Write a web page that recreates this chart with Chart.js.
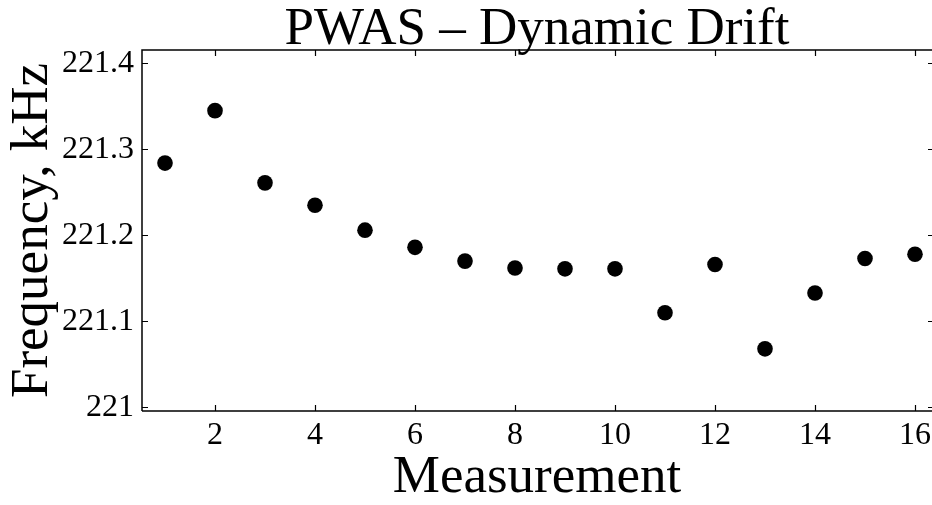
<!DOCTYPE html>
<html>
<head>
<meta charset="utf-8">
<script src="https://cdn.jsdelivr.net/npm/chart.js@4"></script>
<style>
html,body{margin:0;padding:0;background:#fff;overflow:hidden;}
#wrap{width:932px;height:505px;position:relative;}
</style>
</head>
<body>
<div id="wrap"><canvas id="c"></canvas></div>
<script>
const measurements = [1,2,3,4,5,6,7,8,9,10,11,12,13,14,15,16];
const frequencies = [221.284,221.345,221.261,221.235,221.206,221.186,221.170,221.162,221.161,221.161,221.110,221.166,221.068,221.133,221.173,221.178];
const xTickValues = [2,4,6,8,10,12,14,16];
const yTickValues = [221,221.1,221.2,221.3,221.4];
const yTickLabels = ['221','221.1','221.2','221.3','221.4'];
const titleText = 'PWAS \u2013 Dynamic Drift';
const xTitle = 'Measurement';
const yTitle = 'Frequency, kHz';

const FONT = '"Liberation Serif", "Times New Roman", serif';

const frame = {
  id: 'frame',
  afterDatasetsDraw(chart) {
    const {ctx, chartArea: a, scales: {x, y}} = chart;
    ctx.save();
    ctx.strokeStyle = '#000';
    ctx.lineWidth = 1.5;
    ctx.beginPath();
    ctx.moveTo(a.left, a.bottom); ctx.lineTo(a.left, a.top); ctx.lineTo(a.right, a.top);
    ctx.moveTo(a.left, a.bottom); ctx.lineTo(a.right, a.bottom);
    ctx.stroke();
    ctx.lineWidth = 1.2;
    ctx.beginPath();
    xTickValues.forEach(v => {
      const px = Math.round(x.getPixelForValue(v)) + 0.5;
      ctx.moveTo(px, a.bottom); ctx.lineTo(px, a.bottom - 6);
      ctx.moveTo(px, a.top); ctx.lineTo(px, a.top + 6);
    });
    yTickValues.forEach(v => {
      const py = Math.round(y.getPixelForValue(v)) + 0.5;
      ctx.moveTo(a.left, py); ctx.lineTo(a.left + 6, py);
      ctx.moveTo(a.right, py); ctx.lineTo(a.right - 4, py);
    });
    ctx.stroke();
    ctx.restore();
  }
};

new Chart(document.getElementById('c'), {
  type: 'scatter',
  data: {
    datasets: [{
      data: measurements.map((m, i) => ({x: m, y: frequencies[i]})),
      backgroundColor: '#000',
      borderWidth: 0,
      pointRadius: 7.8,
      pointHoverRadius: 7.8
    }]
  },
  plugins: [frame],
  options: {
    responsive: true,
    maintainAspectRatio: false,
    animation: false,
    events: [],
    layout: {padding: 0, autoPadding: false},
    plugins: {
      legend: {display: false},
      tooltip: {enabled: false},
      title: {
        display: true,
        text: titleText,
        fullSize: false,
        color: '#000',
        font: {family: FONT, size: 53, weight: 'normal', lineHeight: 1},
        padding: {top: 4, bottom: -7}
      }
    },
    scales: {
      x: {
        type: 'linear',
        min: 0.54,
        max: 16.34,
        afterFit(s) { s.height = 94; s.paddingLeft = 0; s.paddingRight = 0; },
        afterBuildTicks(s) { s.ticks = xTickValues.map(v => ({value: v})); },
        grid: {display: false, drawTicks: false},
        border: {display: false},
        ticks: {
          includeBounds: false,
          autoSkip: false,
          maxRotation: 0,
          padding: 5,
          color: '#000',
          font: {family: FONT, size: 32},
          callback: v => String(v)
        },
        title: {
          display: true,
          text: xTitle,
          color: '#000',
          font: {family: FONT, size: 53, lineHeight: 1},
          padding: {top: 0, bottom: 0}
        }
      },
      y: {
        type: 'linear',
        min: 220.9957,
        max: 221.4155,
        afterFit(s) { s.width = 142; s.paddingTop = 0; s.paddingBottom = 0; },
        afterBuildTicks(s) { s.ticks = yTickValues.map(v => ({value: v})); },
        grid: {display: false, drawTicks: false},
        border: {display: false},
        ticks: {
          includeBounds: false,
          autoSkip: false,
          padding: 8,
          color: '#000',
          font: {family: FONT, size: 32},
          callback: (v, i) => yTickLabels[i]
        },
        title: {
          display: true,
          text: yTitle,
          color: '#000',
          font: {family: FONT, size: 53, lineHeight: 1},
          padding: {top: 7, bottom: 0}
        }
      }
    }
  }
});
</script>
</body>
</html>
